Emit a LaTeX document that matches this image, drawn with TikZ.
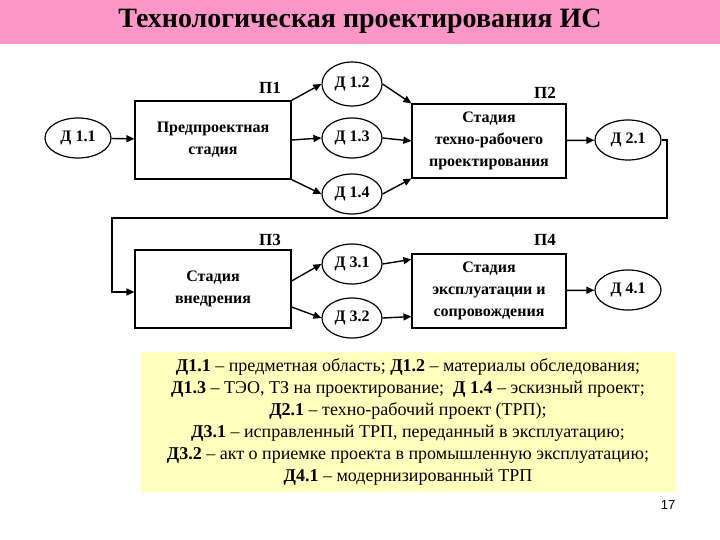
\documentclass[tikz,border=0pt]{standalone}
\usepackage{fontspec}
\setmainfont{Liberation Serif}
\usetikzlibrary{arrows.meta,shapes.geometric}
\definecolor{titlepink}{RGB}{255,150,200}
\definecolor{legyellow}{RGB}{255,255,190}
\begin{document}
\begin{tikzpicture}[x=1pt,y=-1pt,
  el/.style={draw,line width=1.2pt,ellipse,minimum width=60pt,minimum height=40pt,inner sep=0pt,font=\bfseries\fontsize{16}{16}\selectfont},
  bx/.style={draw,line width=1.2pt,minimum width=156pt,align=center,font=\bfseries\fontsize{16}{22}\selectfont},
  lb/.style={font=\bfseries\fontsize{17}{17}\selectfont},
  ar/.style={line width=1.4pt,-{Triangle[length=8pt,width=7pt]}}]
\useasboundingbox (0,0) rectangle (720,540);
\fill[titlepink] (0,0) rectangle (720,44);
\node[font=\bfseries\fontsize{28}{28}\selectfont] (title) at (360,21) {Технологическая проектирования ИС};
\fill[legyellow] (141,352) rectangle (676,492);
\node (d11) [el,minimum width=66pt] at (78,138) {Д 1.1};
\node (b1) [bx,minimum height=78pt] at (213,140) {Предпроектная\\стадия};
\node (d12) [el,minimum height=44pt] at (352,84) {Д 1.2};
\node (d13) [el] at (352,138) {Д 1.3};
\node (d14) [el] at (352,194) {Д 1.4};
\node (b2) [bx,minimum width=154pt,minimum height=74pt] at (489,141) {Стадия\\техно-рабочего\\проектирования};
\node (d21) [el,minimum width=66pt] at (628,140) {Д 2.1};
\node (b3) [bx,minimum height=78pt] at (213,289) {Стадия\\внедрения};
\node (d31) [el] at (352,264) {Д 3.1};
\node (d32) [el] at (352,318) {Д 3.2};
\node (b4) [bx,minimum width=154pt,minimum height=74pt] at (489,291) {Стадия\\эксплуатации и\\сопровождения};
\node (d41) [el,minimum width=66pt] at (628,290) {Д 4.1};
\node[lb] (p1) at (270,88) {П1};
\node[lb] (p2) at (545,93) {П2};
\node[lb] (p3) at (270,240) {П3};
\node[lb] (p4) at (545,240) {П4};
\draw[ar] (d11) -- (b1);
\draw[ar] (b1.north east) -- (d12.west);
\draw[ar] (b1.east) -- (d13.west);
\draw[ar] (b1.south east) -- (d14.west);
\draw[ar] (d12.east) -- (b2.north west);
\draw[ar] (d13.east) -- (b2.west);
\draw[ar] (d14.east) -- (b2.south west);
\draw[ar] (b2) -- (d21);
\draw[ar] (d21.east) -- (667,140) -- (667,218) -- (112,218) -- (112,292) -- (b3.west |- 0,292);
\draw[ar] ([yshift=8pt]b3.east) -- (d31.west);
\draw[ar] ([yshift=-18pt]b3.east) -- (d32.west);
\draw[ar] (d31.east) -- ([yshift=-6pt]b4.north west);
\draw[ar] (d32.east) -- ([yshift=12pt]b4.south west);
\draw[ar] (b4) -- (d41);
\node (txt) [align=center,font=\fontsize{18}{22}\selectfont] at (408,422) {%
\textbf{Д1.1} – предметная область; \textbf{Д1.2} – материалы обследования;\\
\textbf{Д1.3} – ТЭО, ТЗ на проектирование;\ \ \textbf{Д 1.4} – эскизный проект;\\
\textbf{Д2.1} – техно-рабочий проект (ТРП);\\
\textbf{Д3.1} – исправленный ТРП, переданный в эксплуатацию;\\
\textbf{Д3.2} – акт о приемке проекта в промышленную эксплуатацию;\\
\textbf{Д4.1} – модернизированный ТРП};
\node (num) [font=\fontspec{Liberation Sans}\fontsize{13}{13}\selectfont] at (668,505) {17};
\end{tikzpicture}
\end{document}
